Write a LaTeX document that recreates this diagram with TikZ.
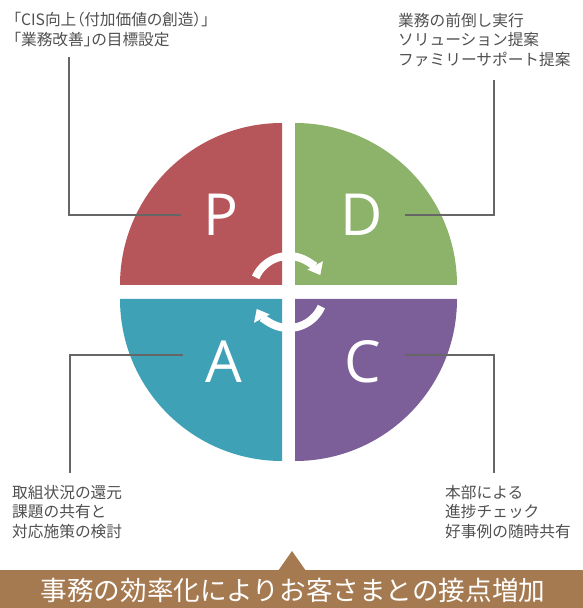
\documentclass[tikz,border=0pt]{standalone}
\usepackage{fontspec}
\setmainfont{Open Sans}
\newfontfamily\jp{Noto Sans CJK JP}
\newfontfamily\jpp[RawFeature=+palt]{Noto Sans CJK JP}
\usetikzlibrary{arrows.meta}
\definecolor{pcol}{HTML}{B7565A}
\definecolor{dcol}{HTML}{8DB26A}
\definecolor{acol}{HTML}{3FA1B5}
\definecolor{ccol}{HTML}{7C5F98}
\definecolor{bancol}{HTML}{A67A50}
\definecolor{txtcol}{HTML}{505050}
\definecolor{leadcol}{HTML}{666666}
\begin{document}
\begin{tikzpicture}[x=1pt,y=1pt,
  letter/.style={text=white,font=\fontsize{58}{58}\selectfont,inner sep=0pt},
  note/.style={text=txtcol,font=\jp\fontsize{15.7}{19.5}\selectfont,align=left,inner sep=0pt,anchor=north west},
  leader/.style={draw=leadcol,line width=1.1pt},
  ring/.style={draw=white,line width=8pt,-{Triangle[width=17pt,length=11pt]}}]
\useasboundingbox (0,0) rectangle (583,608);
% quadrants
\fill[pcol] (282,323) -- (120,323) arc[start angle=180,end angle=90,radius=162] -- cycle;
\fill[dcol] (295,323) -- (295,485) arc[start angle=90,end angle=0,radius=162] -- cycle;
\fill[acol] (282,309) -- (120,309) arc[start angle=180,end angle=270,radius=162] -- cycle;
\fill[ccol] (295,309) -- (457,309) arc[start angle=0,end angle=-90,radius=162] -- cycle;
% ring arrows
\draw[ring] (288.5,316) ++(156:36) arc[start angle=156,end angle=28,radius=36];
\draw[ring] (288.5,316) ++(-24:36) arc[start angle=-24,end angle=-152,radius=36];
% letters
\node[letter] (P) at (221,393) {P};
\node[letter] (D) at (362,393) {D};
\node[letter] (A) at (224,246) {A};
\node[letter] (C) at (363,246) {C};
% notes
\node[note,font=\jpp\fontsize{15.7}{19.5}\selectfont] (tl) at (13,596) {「CIS向上（付加価値の創造）」\\「業務改善」の目標設定};
\node[note] (tr) at (398,595) {業務の前倒し実行\\ソリューション提案\\ファミリーサポート提案};
\node[note] (bl) at (12,123) {取組状況の還元\\課題の共有と\\対応施策の検討};
\node[note] (br) at (445,123) {本部による\\進捗チェック\\好事例の随時共有};
% leader lines
\coordinate (p1) at (69,551);
\coordinate (p2) at (69,393);
\coordinate (p3) at (181,393);
\draw[leader] (p1) -- (p2) -- (p3);
\coordinate (d1) at (494,528);
\coordinate (d2) at (494,393);
\coordinate (d3) at (405,393);
\draw[leader] (d1) -- (d2) -- (d3);
\coordinate (a1) at (70,135);
\coordinate (a2) at (70,253);
\coordinate (a3) at (183,253);
\draw[leader] (a1) -- (a2) -- (a3);
\coordinate (c1) at (494,135);
\coordinate (c2) at (494,253);
\coordinate (c3) at (405,253);
\draw[leader] (c1) -- (c2) -- (c3);
% banner
\fill[bancol] (0,0) rectangle (583,38);
\fill[bancol] (278,37) -- (292,57) -- (306,37) -- cycle;
\node[text=white,font=\jp\fontsize{26.6}{26.6}\selectfont,inner sep=0pt] (ban) at (293,18) {事務の効率化によりお客さまとの接点増加};
\end{tikzpicture}
\end{document}
